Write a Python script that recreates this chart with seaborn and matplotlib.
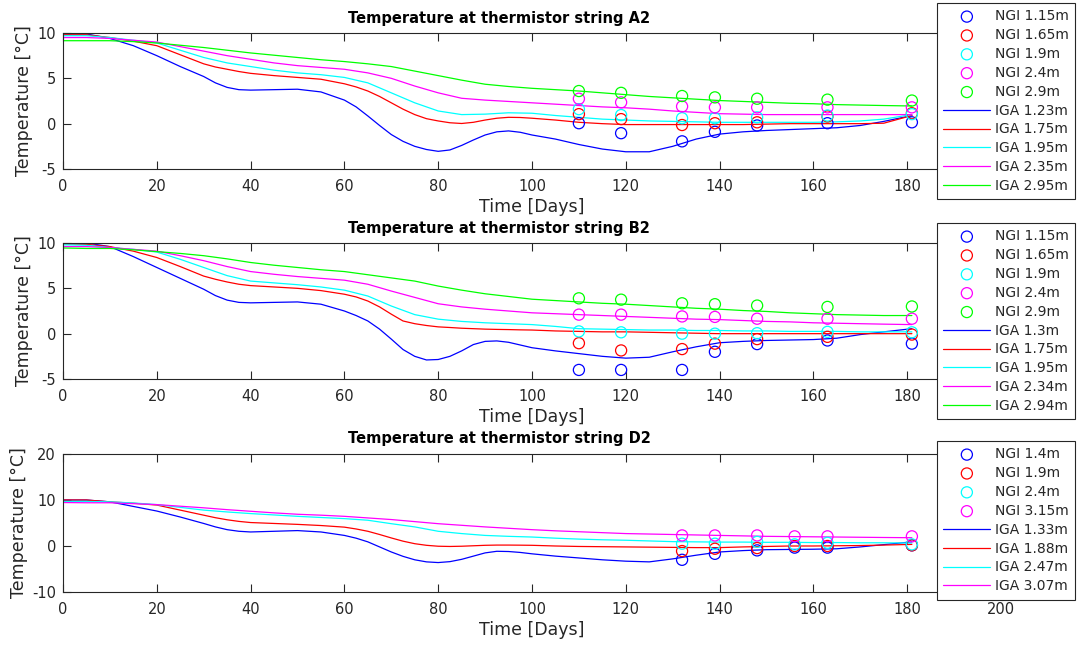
import matplotlib
matplotlib.use("Agg")
import matplotlib.pyplot as plt
import numpy as np
import pandas as pd
import seaborn as sns

# ---------------------------------------------------------------- data
days = [0, 5, 10, 15, 20, 25, 30, 35, 40, 45, 50, 55, 60, 65, 70, 75, 80, 85,
        90, 95, 100, 105, 110, 115, 120, 125, 130, 135, 140, 145, 150, 155,
        160, 165, 170, 175, 181]

# denser sampling for the shallow sensors, which bend sharply while freezing
fine_days = [0, 5, 10, 15, 20, 25, 30, 32.5, 35, 37.5, 40, 45, 50, 55, 60,
             62.5, 65, 67.5, 70, 72.5, 75, 77.5, 80, 82.5, 85, 87.5, 90, 92.5,
             95, 97.5, 100, 105, 110, 115, 120, 125, 130, 135, 140, 145, 150,
             155, 160, 165, 170, 175, 181]

# String A2 - IGA simulated temperatures
a2_iga_labels = ["IGA 1.23m", "IGA 1.75m", "IGA 1.95m", "IGA 2.35m", "IGA 2.95m"]
a2_iga_123 = [9.9, 9.9, 9.4, 8.6, 7.5, 6.3, 5.2, 4.5, 4.0, 3.75, 3.7, 3.75, 3.8, 3.5, 2.6,
              1.85, 0.85, -0.2, -1.2, -1.95, -2.5, -2.85, -3.05, -2.9, -2.4, -1.8, -1.25, -0.9,
              -0.8, -0.95, -1.25, -1.7, -2.3, -2.8, -3.1, -3.1, -2.5, -1.7, -1.15, -0.9, -0.75,
              -0.65, -0.55, -0.45, -0.2, 0.25, 0.9]
a2_iga_175 = [9.8, 9.8, 9.5, 9.1, 8.6, 7.6, 6.6, 6.25, 6.0, 5.75, 5.55, 5.3, 5.1, 4.9, 4.4,
              4.05, 3.6, 3.0, 2.3, 1.6, 1.0, 0.55, 0.3, 0.1, 0.02, 0.15, 0.4, 0.6,
              0.7, 0.68, 0.6, 0.4, 0.15, 0.0, -0.1, -0.1, -0.1, -0.1, -0.1, -0.1, -0.05,
              0.0, 0.0, 0.0, 0.0, 0.05, 0.9]
a2_iga_195 = [9.7, 9.7, 9.5, 9.2, 8.9, 8.1, 7.3, 6.7, 6.3, 5.9, 5.6, 5.4, 5.1, 4.5, 3.4, 2.3, 1.4, 1.0,
              1.05, 1.2, 1.15, 0.9, 0.7, 0.5, 0.4, 0.3, 0.25, 0.2, 0.15, 0.15, 0.15, 0.15,
              0.15, 0.2, 0.3, 0.5, 1.0]
a2_iga_235 = [9.5, 9.5, 9.4, 9.2, 9.0, 8.5, 8.0, 7.5, 7.1, 6.7, 6.4, 6.2, 6.0, 5.6, 5.0, 4.15, 3.4, 2.8,
              2.6, 2.45, 2.3, 2.15, 2.0, 1.85, 1.75, 1.6, 1.4, 1.25, 1.1, 1.05, 1.0, 1.0,
              1.0, 1.0, 1.0, 1.0, 1.0]
a2_iga_295 = [9.15, 9.15, 9.15, 9.05, 8.9, 8.65, 8.4, 8.1, 7.8, 7.55, 7.3, 7.05, 6.85, 6.6, 6.3, 5.8, 5.3, 4.8,
              4.35, 4.1, 3.9, 3.75, 3.6, 3.4, 3.2, 3.0, 2.85, 2.7, 2.55, 2.45, 2.35, 2.25,
              2.2, 2.1, 2.05, 2.0, 1.95]

# String A2 - NGI measured temperatures
ab_ngi_days = [110, 119, 132, 139, 148, 163, 181]
a2_ngi_labels = ["NGI 1.15m", "NGI 1.65m", "NGI 1.9m", "NGI 2.4m", "NGI 2.9m"]
a2_ngi_115 = [0.05, -1.05, -1.95, -0.9, -0.2, 0.05, 0.15]
a2_ngi_165 = [1.05, 0.5, -0.15, 0.05, 0.15, 0.8, 1.15]
a2_ngi_190 = [1.6, 0.95, 0.6, 0.6, 0.7, 0.9, 1.05]
a2_ngi_240 = [2.75, 2.35, 1.9, 1.8, 1.8, 1.8, 1.8]
a2_ngi_290 = [3.6, 3.4, 3.05, 2.9, 2.75, 2.65, 2.55]

# String B2 - IGA simulated temperatures
b2_iga_labels = ["IGA 1.3m", "IGA 1.75m", "IGA 1.95m", "IGA 2.34m", "IGA 2.94m"]
b2_iga_130 = [10.0, 10.0, 9.6, 8.5, 7.3, 6.1, 4.9, 4.2, 3.7, 3.45, 3.4, 3.45, 3.5, 3.25, 2.5,
              2.0, 1.4, 0.5, -0.6, -1.75, -2.5, -2.9, -2.85, -2.5, -1.9, -1.2, -0.85, -0.8,
              -0.95, -1.25, -1.55, -1.9, -2.2, -2.5, -2.7, -2.6, -2.0, -1.45, -1.0, -0.85, -0.75,
              -0.7, -0.65, -0.5, -0.1, 0.2, 0.55]
b2_iga_175 = [9.9, 9.85, 9.6, 9.1, 8.4, 7.4, 6.35, 6.0, 5.7, 5.45, 5.3, 5.15, 5.0, 4.75, 4.35,
              4.05, 3.6, 2.95, 2.15, 1.4, 1.1, 0.9, 0.75, 0.68, 0.6, 0.55, 0.5, 0.47,
              0.45, 0.42, 0.4, 0.3, 0.25, 0.2, 0.2, 0.15, 0.1, 0.05, 0.0, 0.0, 0.0,
              0.0, 0.0, 0.0, 0.0, 0.0, 0.0]
b2_iga_195 = [9.8, 9.75, 9.5, 9.3, 9.0, 8.2, 7.3, 6.4, 5.8, 5.6, 5.4, 5.15, 4.8, 4.15, 3.05, 2.1, 1.6, 1.35,
              1.2, 1.1, 1.0, 0.8, 0.55, 0.5, 0.45, 0.4, 0.4, 0.35, 0.35, 0.3, 0.3, 0.25,
              0.25, 0.25, 0.2, 0.2, 0.2]
b2_iga_234 = [9.6, 9.6, 9.5, 9.3, 9.1, 8.6, 8.05, 7.4, 6.85, 6.55, 6.3, 6.1, 5.9, 5.45, 4.7, 4.0, 3.3, 2.95,
              2.7, 2.5, 2.3, 2.2, 2.1, 2.0, 1.9, 1.8, 1.7, 1.6, 1.55, 1.45, 1.35, 1.3,
              1.2, 1.15, 1.1, 1.05, 1.0]
b2_iga_294 = [9.45, 9.4, 9.4, 9.25, 9.05, 8.85, 8.6, 8.25, 7.85, 7.55, 7.3, 7.05, 6.85, 6.5, 6.15, 5.8, 5.25, 4.8,
              4.4, 4.1, 3.8, 3.65, 3.5, 3.35, 3.25, 3.1, 2.95, 2.8, 2.7, 2.55, 2.45, 2.3,
              2.2, 2.1, 2.05, 2.0, 2.0]

# String B2 - NGI measured temperatures
b2_ngi_labels = ["NGI 1.15m", "NGI 1.65m", "NGI 1.9m", "NGI 2.4m", "NGI 2.9m"]
b2_ngi_115 = [-4.0, -4.0, -4.0, -2.0, -1.15, -0.75, -1.1]
b2_ngi_165 = [-1.05, -1.85, -1.7, -1.1, -0.6, -0.35, -0.1]
b2_ngi_190 = [0.25, 0.15, 0.0, 0.0, 0.05, 0.2, 0.15]
b2_ngi_240 = [2.1, 2.1, 1.9, 1.85, 1.65, 1.65, 1.65]
b2_ngi_290 = [3.9, 3.75, 3.35, 3.25, 3.1, 2.95, 3.0]

# String D2 - IGA simulated temperatures
d2_iga_labels = ["IGA 1.33m", "IGA 1.88m", "IGA 2.47m", "IGA 3.07m"]
d2_iga_133 = [10.0, 10.0, 9.6, 8.6, 7.6, 6.3, 4.9, 4.15, 3.55, 3.2, 3.05, 3.2, 3.35, 3.05, 2.3,
              1.7, 0.9, -0.2, -1.3, -2.25, -3.0, -3.45, -3.6, -3.4, -2.9, -2.2, -1.5, -1.15,
              -1.2, -1.4, -1.7, -2.2, -2.6, -3.0, -3.3, -3.45, -2.8, -2.0, -1.3, -1.0, -0.8,
              -0.75, -0.7, -0.6, -0.2, 0.3, 0.9]
d2_iga_188 = [10.0, 10.0, 9.6, 9.3, 8.9, 7.8, 6.7, 6.15, 5.7, 5.35, 5.1, 4.9, 4.7, 4.45, 4.1,
              3.7, 3.2, 2.5, 1.75, 1.05, 0.5, 0.15, -0.05, -0.1, -0.05, 0.05, 0.15, 0.2,
              0.2, 0.18, 0.15, 0.0, -0.1, -0.15, -0.2, -0.25, -0.3, -0.35, -0.35, -0.2, -0.1,
              0.0, 0.0, 0.05, 0.1, 0.2, 0.35]
d2_iga_247 = [9.7, 9.7, 9.6, 9.35, 9.0, 8.4, 7.8, 7.4, 7.05, 6.75, 6.45, 6.2, 5.95, 5.6, 4.85, 4.15, 3.2, 2.7,
              2.3, 2.1, 1.95, 1.7, 1.5, 1.35, 1.25, 1.1, 0.95, 0.9, 0.85, 0.85, 0.8, 0.8,
              0.75, 0.75, 0.7, 0.7, 0.65]
d2_iga_307 = [9.45, 9.4, 9.4, 9.2, 9.0, 8.65, 8.3, 7.9, 7.55, 7.2, 6.9, 6.7, 6.45, 6.1, 5.75, 5.3, 4.85, 4.5,
              4.15, 3.85, 3.55, 3.3, 3.1, 2.9, 2.7, 2.6, 2.5, 2.4, 2.3, 2.2, 2.1, 2.05,
              2.0, 1.95, 1.9, 1.85, 1.8]

# String D2 - NGI measured temperatures
d2_ngi_days = [132, 139, 148, 156, 163, 181]
d2_ngi_labels = ["NGI 1.4m", "NGI 1.9m", "NGI 2.4m", "NGI 3.15m"]
d2_ngi_140 = [-3.0, -1.7, -0.95, -0.35, -0.35, 0.15]
d2_ngi_190 = [-1.1, -0.6, -0.45, 0.0, 0.0, 0.15]
d2_ngi_240 = [0.5, 0.5, 0.9, 0.35, 0.7, 0.35]
d2_ngi_315 = [2.3, 2.3, 2.3, 2.1, 2.1, 2.1]

x_ticks = [0, 20, 40, 60, 80, 100, 120, 140, 160, 180, 200]
series_colors = ["#0000ff", "#ff0000", "#00ffff", "#ff00ff", "#00ff00"]

# ---------------------------------------------------------------- style
sns.set_style("white")
plt.rcParams["font.family"] = ["DejaVu Sans"]
ink = "#262626"
plt.rcParams.update({
    "axes.unicode_minus": False,
    "axes.edgecolor": ink,
    "axes.linewidth": 0.8,
    "xtick.color": ink,
    "ytick.color": ink,
    "axes.labelcolor": ink,
    "xtick.labelsize": 10.5,
    "ytick.labelsize": 10.5,
})

W, H = 1081, 646
fig = plt.figure(figsize=(W / 100, H / 100), dpi=100)


def px_axes(left, top, right, bottom):
    return fig.add_axes([left / W, 1 - bottom / H, (right - left) / W, (bottom - top) / H])


panels = [
    dict(title="Temperature at thermistor string A2", box=(63, 33, 1001, 169),
         ylim=(-5, 10), yticks=[-5, 0, 5, 10], last_xlabel=False,
         ngi_days=ab_ngi_days, ngi=[a2_ngi_115, a2_ngi_165, a2_ngi_190, a2_ngi_240, a2_ngi_290],
         ngi_labels=a2_ngi_labels,
         iga=[(fine_days, a2_iga_123), (fine_days, a2_iga_175), (days, a2_iga_195),
              (days, a2_iga_235), (days, a2_iga_295)],
         iga_labels=a2_iga_labels, legend_top=3),
    dict(title="Temperature at thermistor string B2", box=(63, 243, 1001, 379),
         ylim=(-5, 10), yticks=[-5, 0, 5, 10], last_xlabel=False,
         ngi_days=ab_ngi_days, ngi=[b2_ngi_115, b2_ngi_165, b2_ngi_190, b2_ngi_240, b2_ngi_290],
         ngi_labels=b2_ngi_labels,
         iga=[(fine_days, b2_iga_130), (fine_days, b2_iga_175), (days, b2_iga_195),
              (days, b2_iga_234), (days, b2_iga_294)],
         iga_labels=b2_iga_labels, legend_top=223),
    dict(title="Temperature at thermistor string D2", box=(63, 454, 1001, 592),
         ylim=(-10, 20), yticks=[-10, 0, 10, 20], last_xlabel=True,
         ngi_days=d2_ngi_days, ngi=[d2_ngi_140, d2_ngi_190, d2_ngi_240, d2_ngi_315],
         ngi_labels=d2_ngi_labels,
         iga=[(fine_days, d2_iga_133), (fine_days, d2_iga_188), (days, d2_iga_247),
              (days, d2_iga_307)],
         iga_labels=d2_iga_labels, legend_top=441),
]

for p in panels:
    ax = px_axes(*p["box"])
    ngi_handles, iga_handles = [], []

    for (t, vals), lab, col in zip(p["iga"], p["iga_labels"], series_colors):
        sns.lineplot(x=t, y=vals, ax=ax, color=col, linewidth=0.9, label=lab,
                     estimator=None, sort=False, legend=False, zorder=2)
        iga_handles.append(ax.lines[-1])

    for vals, lab, col in zip(p["ngi"], p["ngi_labels"], series_colors):
        sns.scatterplot(x=p["ngi_days"], y=vals, ax=ax, marker="o", s=64,
                        facecolors="none", edgecolor=col, linewidth=0.9,
                        label=lab, legend=False, zorder=3)
        ngi_handles.append(ax.collections[-1])

    ax.set_xlim(0, 200)
    ax.set_ylim(*p["ylim"])
    ax.set_xticks(x_ticks)
    # the 200 label sits behind the legend box on the upper two strings
    tick_text = [str(v) for v in x_ticks]
    if not p["last_xlabel"]:
        tick_text[-1] = ""
    ax.set_xticklabels(tick_text)
    ax.set_yticks(p["yticks"])
    ax.tick_params(direction="in", length=6, width=0.8, top=True, right=True,
                   bottom=True, left=True)
    ax.tick_params(axis="x", pad=7)
    ax.tick_params(axis="y", pad=5)
    for s in ax.spines.values():
        s.set_visible(True)
        s.set_color(ink)
    ax.set_xlabel("Time [Days]", fontsize=12.5, labelpad=3)
    ax.set_ylabel("Temperature [°C]", fontsize=12.5, labelpad=3)

    # title centred over the visible plotting area left of the legend
    ax.text((63 + 935) / 2 / W, 1 - (p["box"][1] - 15) / H, p["title"],
            transform=fig.transFigure, ha="center", va="center",
            fontsize=10.5, fontweight="bold", color="black")

    handles = ngi_handles + iga_handles
    labels = list(p["ngi_labels"]) + list(p["iga_labels"])
    leg = ax.legend(handles, labels, loc="upper left",
                    bbox_to_anchor=(937 / W, 1 - p["legend_top"] / H),
                    bbox_transform=fig.transFigure, borderaxespad=0,
                    fontsize=10, frameon=True, fancybox=False, framealpha=1,
                    edgecolor=ink, handlelength=3.4, handletextpad=0.3,
                    labelspacing=0.35, borderpad=0.45, scatterpoints=1)
    leg.get_frame().set_linewidth(0.8)
    leg.set_zorder(10)
    for t in leg.get_texts():
        t.set_color(ink)

fig.savefig("out.png", dpi=100, facecolor="white")
